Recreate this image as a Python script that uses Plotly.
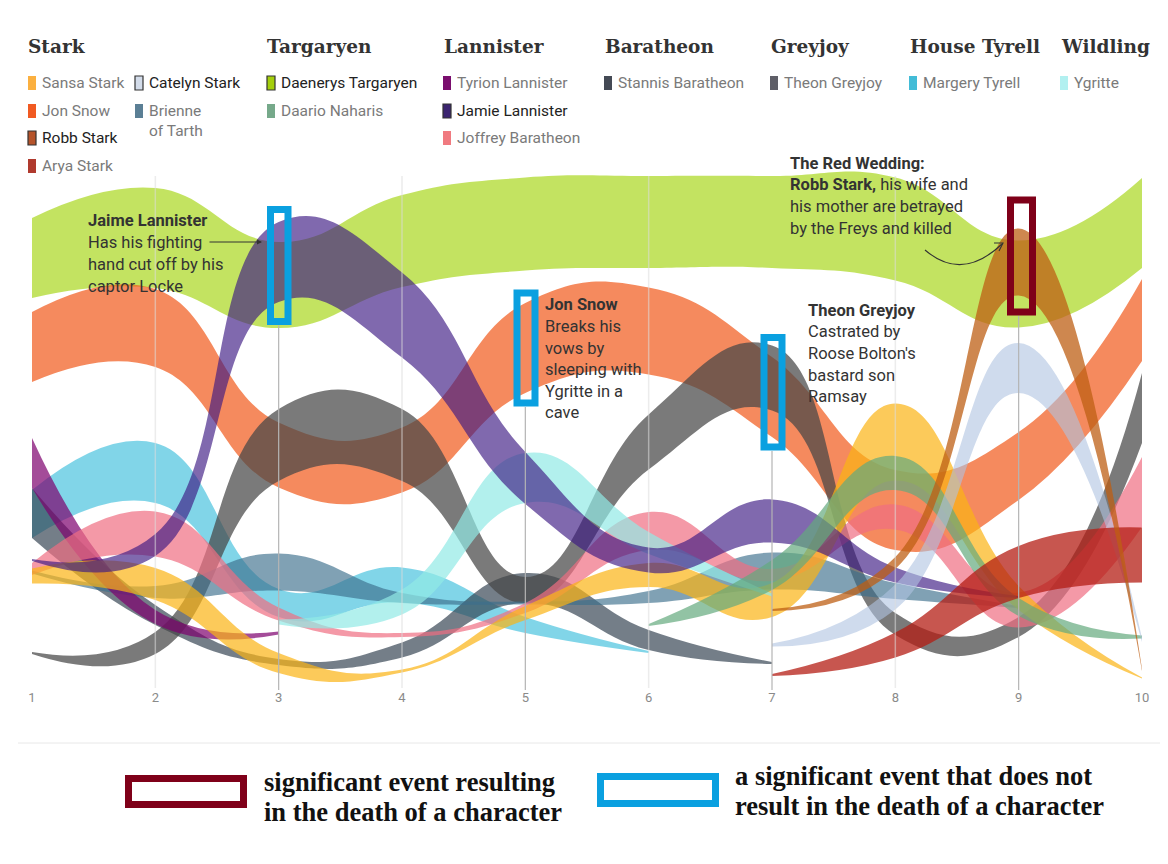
import plotly.graph_objects as go

# ---------------- data (band centre height and band thickness per episode) ----------------
episodes = [1, 2, 3, 4, 5, 6, 7, 8, 9, 10]
N = None

daenerys_c = [442, 462, 415, 459, 476, 478, 478, 471, 416, 477]
daenerys_w = [80, 100, 86, 92, 93, 92, 92, 103, 87, 90]

jon_c = [353, 372, 245, 240, 352, 369, 303, 190, 234, 380]
jon_w = [70, 78, 65, 65, 90, 87, 80, 80, 68, 82]

margery_c = [186, 227, 97, 115, 75, 48, N, N, N, N]
margery_w = [48, 60, 28, 35, 16, 2, N, N, N, N]

stannis_c = [187, 85, 38, 50, 112, 60, 37, N, N, N]
stannis_w = [50, 20, 6, 15, 30, 20, 2, N, N, N]

theon_c = [47, 57, 255, 255, 110, 258, 322, 76, 73, 292]
theon_w = [2, 22, 72, 72, 26, 55, 65, 22, 20, 70]

brienne_c = [128, 108, 128, 102, 97, 103, 129, 109, 93, N]
brienne_w = [3, 12, 37, 10, 3, 12, 37, 16, 2, N]

tyrion_c = [237, 83, 67, N, N, N, N, N, N, N]
tyrion_w = [50, 14, 3, N, N, N, N, N, N, N]

joffrey_c = [131, 166, 86, 65, 92, 169, 125, 183, 90, 208]
joffrey_w = [12, 45, 13, 4, 10, 38, 12, 25, 35, 70]

sansa_c = [124, 116, 37, 29, 87, 125, 100, 258, 102, 22]
sansa_w = [15, 32, 20, 3, 14, 24, 34, 77, 24, 1]

ygritte_c = [N, N, 78, 98, 222, 157, 105, N, N, N]
ygritte_w = [N, N, 5, 25, 50, 22, 3, N, N, N]

jamie_c = [140, 155, 438, 385, 222, 140, 179, 125, 103, N]
jamie_w = [2, 22, 80, 85, 52, 25, 43, 15, 2, N]

daario_c = [N, N, N, N, N, 75, 125, 227, 93, 63]
daario_w = [N, N, N, N, N, 2, 30, 34, 18, 3]

catelyn_c = [N, N, N, N, N, N, 55, 103, 332, 60]
catelyn_w = [N, N, N, N, N, N, 3, 25, 50, 4]

arya_c = [N, N, N, N, N, N, 25, 55, 128, 145]
arya_w = [N, N, N, N, N, N, 2, 25, 52, 55]

robb_c = [N, N, N, N, N, N, 90, 137, 438, 30]
robb_w = [N, N, N, N, N, N, 2, 12, 67, 2]

houses = ["Stark", "Targaryen", "Lannister", "Baratheon", "Greyjoy", "House Tyrell", "Wildling"]
episode_labels = ["1", "2", "3", "4", "5", "6", "7", "8", "9", "10"]

# band name, fill colour, centres, widths
bands = [
    ("Daenerys Targaryen", "rgba(170,215,30,0.7)", daenerys_c, daenerys_w),
    ("Jon Snow", "rgba(241,88,25,0.7)", jon_c, jon_w),
    ("Margery Tyrell", "rgba(75,195,222,0.7)", margery_c, margery_w),
    ("Stannis Baratheon", "rgba(50,65,80,0.68)", stannis_c, stannis_w),
    ("Theon Greyjoy", "rgba(70,70,70,0.72)", theon_c, theon_w),
    ("Brienne of Tarth", "rgba(60,110,140,0.65)", brienne_c, brienne_w),
    ("Tyrion Lannister", "rgba(125,0,110,0.7)", tyrion_c, tyrion_w),
    ("Joffrey Baratheon", "rgba(240,110,130,0.7)", joffrey_c, joffrey_w),
    ("Sansa Stark", "rgba(251,180,20,0.7)", sansa_c, sansa_w),
    ("Ygritte", "rgba(145,233,230,0.7)", ygritte_c, ygritte_w),
    ("Jamie Lannister", "rgba(60,25,130,0.65)", jamie_c, jamie_w),
    ("Daario Naharis", "rgba(100,170,125,0.7)", daario_c, daario_w),
    ("Catelyn Stark", "rgba(175,195,225,0.6)", catelyn_c, catelyn_w),
    ("Arya Stark", "rgba(180,30,20,0.75)", arya_c, arya_w),
    ("Robb Stark", "rgba(190,95,20,0.75)", robb_c, robb_w),
]

# ---------------- figure geometry helpers ----------------
# The page body adds an 8px margin, so the figure is 16px smaller and all
# reference-pixel positions are shifted by 8px.
OFF = 8
W, H = 1168 - 2 * OFF, 864 - 2 * OFF
TOP, BOT = 150, 688          # plot area in reference pixels
PLOT_H = BOT - TOP
EP_PX = 123.333              # pixels per episode
EP1_PX = 32                  # reference pixel of episode 1


def px(x):
    return (x - OFF) / W


def py(y):
    return (BOT - y) / PLOT_H


fig = go.Figure()

for name, col, cs, ws in bands:
    xs = [e for e, c in zip(episodes, cs) if c is not None]
    lo = [c - w / 2 for c, w in zip(cs, ws) if c is not None]
    hi = [c + w / 2 for c, w in zip(cs, ws) if c is not None]
    fig.add_trace(go.Scatter(x=xs, y=lo, mode="lines", name=name,
                             line=dict(width=0, shape="spline", smoothing=1.3, color=col),
                             hoverinfo="skip", showlegend=False))
    fig.add_trace(go.Scatter(x=xs, y=hi, mode="lines", name=name,
                             line=dict(width=0, shape="spline", smoothing=1.3, color=col),
                             fill="tonexty", fillcolor=col,
                             hoverinfo="skip", showlegend=False))

shapes = []
annotations = []

# light vertical lines at even episodes
for e in [2, 4, 6, 8]:
    shapes.append(dict(type="line", xref="x", yref="paper", x0=e, x1=e, y0=py(688), y1=py(176),
                       line=dict(color="rgba(220,220,220,0.55)", width=1.5), layer="above"))

# grey leader lines + event boxes
events = [  # episode, box x0, x1, y0, y1 (pixels, line centre), colour
    (3, 270.5, 288, 209.5, 321.5, "#0aa0e0"),
    (5, 517, 535, 293, 403, "#0aa0e0"),
    (7, 764, 782, 337.5, 447, "#0aa0e0"),
    (9, 1010.5, 1032.5, 200, 312, "#7f0019"),
]
for e, x0, x1, y0, y1, col in events:
    shapes.append(dict(type="line", xref="x", yref="paper", x0=e, x1=e, y0=py(690), y1=py(y1 + 4),
                       line=dict(color="#b4b4b4", width=1.2), layer="above"))
    shapes.append(dict(type="rect", xref="paper", yref="paper", x0=px(x0), x1=px(x1),
                       y0=py(y1), y1=py(y0), line=dict(color=col, width=7), layer="above"))

# ---------------- legend at the top ----------------
header_x = [26, 265, 442, 603, 769, 908, 1059]
for hname, hx in zip(houses, header_x):
    annotations.append(dict(text="<b>%s</b>" % hname, xref="paper", yref="paper", x=px(hx), y=py(46),
                            xanchor="left", yanchor="middle", showarrow=False,
                            font=dict(family="DejaVu Serif", size=18.5, color="#333333")))

legend_items = [  # label, swatch x, row y, colour, highlighted
    ("Sansa Stark", 28, 83, "#fbb040", False),
    ("Jon Snow", 28, 111, "#f15a22", False),
    ("Robb Stark", 28, 138, "#b5532a", True),
    ("Arya Stark", 28, 166, "#b03a2e", False),
    ("Catelyn Stark", 135, 83, "#d3dcea", True),
    ("Brienne", 135, 111, "#5b7f95", False),
    ("Daenerys Targaryen", 267, 83, "#a4cf0c", True),
    ("Daario Naharis", 267, 111, "#76a98a", False),
    ("Tyrion Lannister", 443, 83, "#7a0e6e", False),
    ("Jamie Lannister", 443, 111, "#3b2470", True),
    ("Joffrey Baratheon", 443, 138, "#f07a80", False),
    ("Stannis Baratheon", 604, 83, "#444a55", False),
    ("Theon Greyjoy", 770, 83, "#5f5f68", False),
    ("Margery Tyrell", 909, 83, "#43bcd7", False),
    ("Ygritte", 1060, 83, "#b2f0f0", False),
]
for label, sx, ry, col, hl in legend_items:
    shapes.append(dict(type="rect", xref="paper", yref="paper", x0=px(sx), x1=px(sx + 8),
                       y0=py(ry + 7), y1=py(ry - 7), fillcolor=col,
                       line=dict(color="#333333" if hl else col, width=1.2 if hl else 0)))
    annotations.append(dict(text=label, xref="paper", yref="paper", x=px(sx + 12), y=py(ry),
                            xanchor="left", yanchor="middle", showarrow=False,
                            font=dict(family="Roboto", size=15.5, color="#222222" if hl else "#7a7a7a")))
annotations.append(dict(text="of Tarth", xref="paper", yref="paper", x=px(147), y=py(131),
                        xanchor="left", yanchor="middle", showarrow=False,
                        font=dict(family="Roboto", size=15.5, color="#7a7a7a")))

# ---------------- event annotations ----------------
notes = [
    (86, [220, 242, 264, 286], ["<b>Jaime Lannister</b>", "Has his fighting", "hand cut off by his", "captor Locke"]),
    (543, [304, 326, 348, 369, 391, 412], ["<b>Jon Snow</b>", "Breaks his", "vows by", "sleeping with", "Ygritte in a", "cave"]),
    (806, [310, 331, 353, 375, 396], ["<b>Theon Greyjoy</b>", "Castrated by", "Roose Bolton's", "bastard son", "Ramsay"]),
    (788, [163, 184, 206, 228], ["<b>The Red Wedding:</b>", "<b>Robb Stark,</b> his wife and", "his mother are betrayed", "by the Freys and killed"]),
]
for nx, ys, lines in notes:
    for yy, t in zip(ys, lines):
        annotations.append(dict(text=t, xref="paper", yref="paper", x=px(nx), y=py(yy),
                                xanchor="left", yanchor="middle", showarrow=False,
                                font=dict(family="Roboto", size=16.5, color="#333333")))

# straight arrow for Jaime
annotations.append(dict(text="", xref="paper", yref="paper", x=px(262), y=py(242),
                        ax=-54, ay=0, axref="pixel", ayref="pixel", showarrow=True,
                        arrowhead=2, arrowsize=1, arrowwidth=1, arrowcolor="#333333"))

# curved arrow for the Red Wedding
shapes.append(dict(type="path", xref="paper", yref="paper",
                   path="M %f,%f Q %f,%f %f,%f" % (px(925), py(250), px(962), py(282), px(1002), py(244)),
                   line=dict(color="#333333", width=1.1)))
shapes.append(dict(type="path", xref="paper", yref="paper",
                   path="M %f,%f L %f,%f L %f,%f" % (px(994), py(243), px(1003), py(243), px(999), py(251)),
                   line=dict(color="#333333", width=1.1)))

# separator and bottom key
shapes.append(dict(type="line", xref="paper", yref="paper", x0=px(18), x1=px(1160), y0=py(743), y1=py(743),
                   line=dict(color="#e8e8e8", width=1)))
shapes.append(dict(type="rect", xref="paper", yref="paper", x0=px(128.5), x1=px(243.5), y0=py(804.5), y1=py(778.5),
                   line=dict(color="#7f0019", width=7)))
shapes.append(dict(type="rect", xref="paper", yref="paper", x0=px(600.5), x1=px(715.5), y0=py(803.5), y1=py(776.5),
                   line=dict(color="#0aa0e0", width=7)))
key_text = [
    (262, 782, "significant event resulting"),
    (262, 812, "in the death of a character"),
    (733, 776, "a significant event that does not"),
    (733, 806, "result in the death of a character"),
]
for kx, ky, t in key_text:
    annotations.append(dict(text="<b>%s</b>" % t, xref="paper", yref="paper", x=px(kx), y=py(ky),
                            xanchor="left", yanchor="middle", showarrow=False,
                            font=dict(family="Liberation Serif", size=26.5, color="#111111")))

x0_range = 1 + (OFF - EP1_PX) / EP_PX
x1_range = 1 + (OFF + W - EP1_PX) / EP_PX

fig.update_layout(
    width=W, height=H, autosize=False,
    margin=dict(l=0, r=0, t=TOP - OFF, b=(H + OFF) - BOT, pad=0),
    paper_bgcolor="white", plot_bgcolor="white",
    xaxis=dict(range=[x0_range, x1_range], tickvals=episodes, ticktext=episode_labels,
               showgrid=False, zeroline=False, showline=False, ticks="",
               tickfont=dict(family="Roboto", size=13, color="#8a8a8a"), fixedrange=True),
    yaxis=dict(range=[12, 550], visible=False, fixedrange=True),
    shapes=shapes, annotations=annotations, showlegend=False,
)

fig.write_html("out.html")
